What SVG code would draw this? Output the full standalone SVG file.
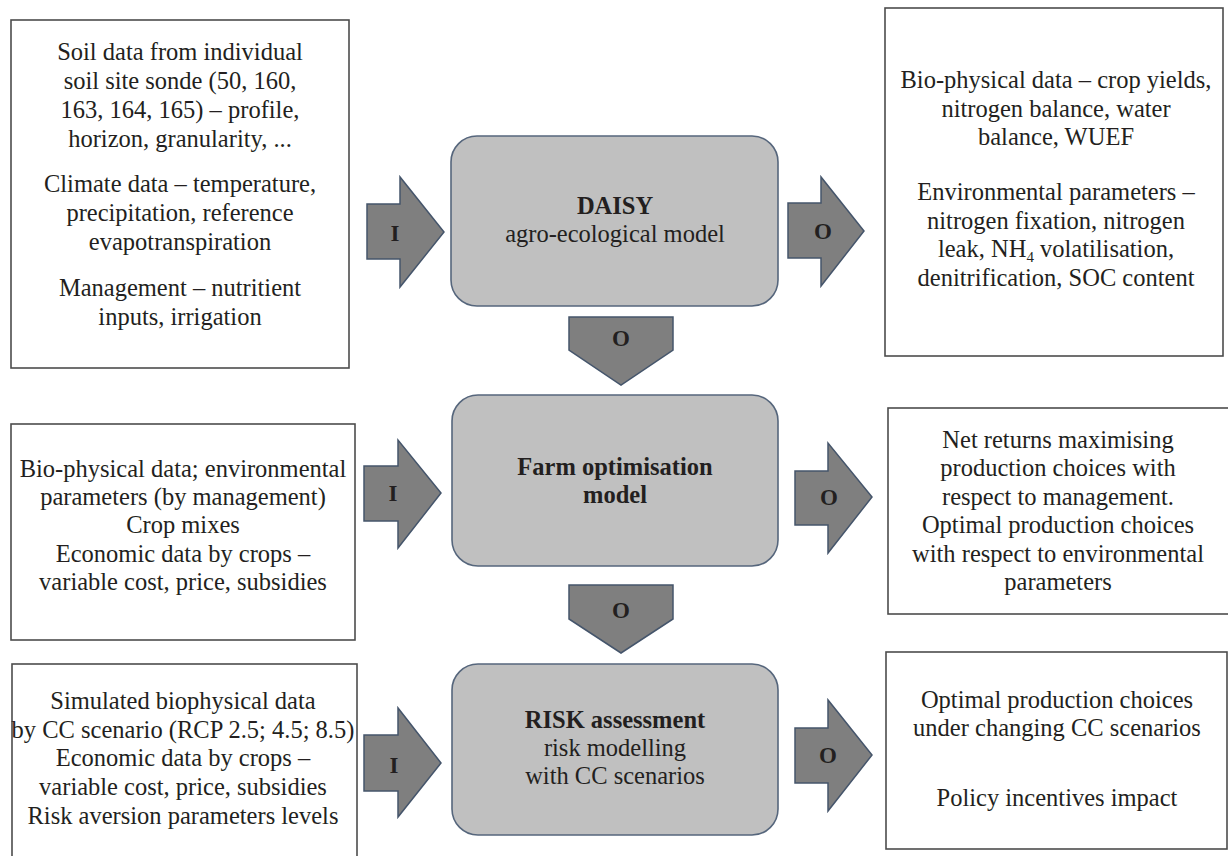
<svg xmlns="http://www.w3.org/2000/svg" width="1228" height="856" viewBox="0 0 1228 856">
<style>
.box{fill:#ffffff;stroke:#4d4d4d;stroke-width:1.6}
.model{fill:#c0c0c0;stroke:#56667c;stroke-width:1.6}
.arr{fill:#7f7f7f;stroke:#45556b;stroke-width:1.5;stroke-linejoin:miter}
text{fill:#231f20;font-size:24.5px;text-anchor:middle}
.b{font-weight:bold}
.lbl{font-weight:bold;font-size:23px}
</style>
<rect width="1228" height="856" fill="#ffffff"/>
<g font-family="'Liberation Serif', 'DejaVu Serif', serif">
<g id="connectors">
  <polygon class="arr" points="367,204 400,204 400,177 444,232 400,287 400,259 367,259"/>
  <polygon class="arr" points="788,203 821,203 821,177 864,231 821,286 821,258 788,258"/>
  <polygon class="arr" points="569,317 673,317 673,350 621,385 569,350"/>
  <polygon class="arr" points="364,466 398,466 398,440 441,493 398,548 398,521 364,521"/>
  <polygon class="arr" points="795,471 828,471 828,443 872,497 828,553 828,525 795,525"/>
  <polygon class="arr" points="569,585 673,585 673,619 621,653 569,619"/>
  <polygon class="arr" points="364,735 398,735 398,708 441,763 398,817 398,791 364,791"/>
  <polygon class="arr" points="795,728 828,728 828,700 872,755 828,811 828,783 795,783"/>
  <text class="lbl" x="395" y="241">I</text>
  <text class="lbl" x="823" y="239">O</text>
  <text class="lbl" x="621" y="346">O</text>
  <text class="lbl" x="393" y="501">I</text>
  <text class="lbl" x="829" y="505">O</text>
  <text class="lbl" x="621" y="618">O</text>
  <text class="lbl" x="394" y="773">I</text>
  <text class="lbl" x="828" y="763">O</text>
</g>
<g id="input-daisy">
  <rect class="box" x="11" y="20" width="338" height="348"/>
  <text x="180" y="60">Soil data from individual</text>
  <text x="180" y="89">soil site sonde (50, 160,</text>
  <text x="180" y="118">163, 164, 165) – profile,</text>
  <text x="180" y="147">horizon, granularity, ...</text>
  <text x="180" y="192">Climate data – temperature,</text>
  <text x="180" y="221">precipitation, reference</text>
  <text x="180" y="250">evapotranspiration</text>
  <text x="180" y="296">Management – nutritient</text>
  <text x="180" y="325">inputs, irrigation</text>
</g>
<g id="daisy">
  <rect class="model" x="451" y="136" width="327" height="170" rx="26"/>
  <text class="b" x="615" y="214">DAISY</text>
  <text x="615" y="242">agro-ecological model</text>
</g>
<g id="output-daisy">
  <rect class="box" x="885" y="8" width="338" height="348"/>
  <text x="1056" y="88">Bio-physical data – crop yields,</text>
  <text x="1056" y="117">nitrogen balance, water</text>
  <text x="1056" y="145">balance, WUEF</text>
  <text x="1056" y="200">Environmental parameters –</text>
  <text x="1056" y="229">nitrogen fixation, nitrogen</text>
  <text x="1056" y="257">leak, NH<tspan font-size="15" dy="5">4</tspan><tspan dy="-5"> volatilisation,</tspan></text>
  <text x="1056" y="286">denitrification, SOC content</text>
</g>
<g id="input-farm">
  <rect class="box" x="11" y="424" width="344" height="216"/>
  <text x="183" y="477">Bio-physical data; environmental</text>
  <text x="183" y="505">parameters (by management)</text>
  <text x="183" y="533">Crop mixes</text>
  <text x="183" y="562">Economic data by crops –</text>
  <text x="183" y="590">variable cost, price, subsidies</text>
</g>
<g id="farm">
  <rect class="model" x="452" y="395" width="326" height="171" rx="26"/>
  <text class="b" x="615" y="475">Farm optimisation</text>
  <text class="b" x="615" y="503">model</text>
</g>
<g id="output-farm">
  <rect class="box" x="888" y="408" width="345" height="206"/>
  <text x="1058" y="448">Net returns maximising</text>
  <text x="1058" y="476">production choices with</text>
  <text x="1058" y="505">respect to management.</text>
  <text x="1058" y="533">Optimal production choices</text>
  <text x="1058" y="562">with respect to environmental</text>
  <text x="1058" y="590">parameters</text>
</g>
<g id="input-risk">
  <rect class="box" x="12" y="664" width="345" height="200"/>
  <text x="183" y="709">Simulated biophysical data</text>
  <text x="183" y="738">by CC scenario (RCP 2.5; 4.5; 8.5)</text>
  <text x="183" y="766">Economic data by crops –</text>
  <text x="183" y="795">variable cost, price, subsidies</text>
  <text x="183" y="824">Risk aversion parameters levels</text>
</g>
<g id="risk">
  <rect class="model" x="452" y="664" width="326" height="171" rx="26"/>
  <text class="b" x="615" y="728">RISK assessment</text>
  <text x="615" y="756">risk modelling</text>
  <text x="615" y="784">with CC scenarios</text>
</g>
<g id="output-risk">
  <rect class="box" x="886" y="652" width="341" height="197"/>
  <text x="1057" y="708">Optimal production choices</text>
  <text x="1057" y="736">under changing CC scenarios</text>
  <text x="1057" y="806">Policy incentives impact</text>
</g>
</g>
</svg>
